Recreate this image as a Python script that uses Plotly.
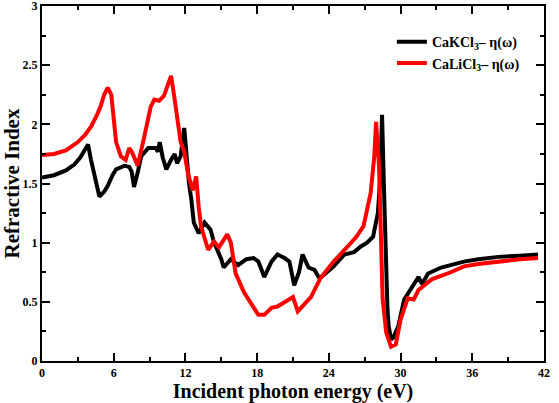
import plotly.graph_objects as go

black_x = [0, 1.0, 2.0, 2.7, 3.2, 3.5, 3.85, 4.1, 4.4, 4.8, 5.2, 5.5, 5.9, 6.2, 6.9, 7.3, 7.5, 7.7, 8.0, 8.3,
           8.9, 9.5, 9.7, 9.85, 10.1, 10.4, 10.8, 11.1, 11.3, 11.6, 11.9, 12.1, 12.3, 12.5, 12.7, 13.1, 13.6,
           14.1, 14.4, 15.0, 15.2, 15.8, 16.4, 17.1, 17.7, 18.1, 18.6, 19.2, 19.7, 20.3, 20.7, 21.1, 21.5,
           21.8, 22.3, 22.8, 23.2, 23.6, 24.4, 25.3, 26.1, 26.7, 27.2, 27.7, 28.1, 28.3, 28.45, 28.6, 28.75,
           28.9, 29.0, 29.2, 29.4, 29.8, 30.3, 31.0, 31.5, 31.8, 32.3, 33.4, 34.2, 35.3, 36.5, 38.2, 40.0, 41.5]
black_y = [1.55, 1.57, 1.61, 1.66, 1.72, 1.77, 1.83, 1.70, 1.55, 1.39, 1.43, 1.48, 1.57, 1.62, 1.65, 1.64, 1.60,
           1.47, 1.59, 1.73, 1.80, 1.80, 1.77, 1.85, 1.72, 1.62, 1.70, 1.75, 1.67, 1.73, 1.97, 1.70, 1.50, 1.36,
           1.17, 1.08, 1.17, 1.11, 1.00, 0.86, 0.79, 0.86, 0.81, 0.86, 0.87, 0.84, 0.71, 0.84, 0.90, 0.87, 0.84,
           0.64, 0.75, 0.90, 0.79, 0.77, 0.70, 0.73, 0.80, 0.90, 0.92, 0.97, 1.00, 1.05, 1.25, 1.55, 2.08, 1.50,
           0.90, 0.45, 0.30, 0.18, 0.20, 0.29, 0.52, 0.63, 0.71, 0.65, 0.74, 0.79, 0.81, 0.84, 0.86, 0.88, 0.89, 0.90]

red_x = [0, 1.0, 2.0, 3.0, 3.6, 4.1, 4.6, 4.9, 5.2, 5.5, 5.8, 6.0, 6.2, 6.6, 7.0, 7.3, 7.5, 7.8, 8.0, 8.5, 9.1,
         9.4, 9.8, 10.2, 10.6, 10.8, 11.1, 11.4, 11.6, 11.9, 12.2, 12.6, 12.9, 13.1, 13.3, 13.9, 14.4, 14.8,
         15.5, 15.8, 16.2, 16.9, 17.5, 18.1, 18.6, 19.2, 19.7, 20.3, 21.0, 21.4, 21.9, 22.5, 23.3, 24.4, 25.6,
         26.3, 26.9, 27.5, 27.8, 27.95, 28.2, 28.4, 28.5, 28.8, 29.2, 29.6, 30.0, 30.6, 31.1, 31.5, 32.6, 34.2,
         35.3, 36.5, 38.2, 40.0, 41.5]
red_y = [1.74, 1.75, 1.78, 1.85, 1.91, 1.98, 2.08, 2.15, 2.25, 2.31, 2.25, 2.05, 1.85, 1.73, 1.70, 1.80, 1.77,
         1.70, 1.65, 1.87, 2.15, 2.21, 2.20, 2.24, 2.36, 2.41, 2.21, 1.98, 1.85, 1.77, 1.59, 1.44, 1.56, 1.31,
         1.14, 0.94, 1.01, 0.96, 1.07, 1.00, 0.74, 0.58, 0.49, 0.39, 0.39, 0.45, 0.46, 0.50, 0.54, 0.42, 0.47,
         0.54, 0.70, 0.84, 0.97, 1.05, 1.14, 1.42, 1.73, 2.02, 1.64, 1.03, 0.52, 0.24, 0.12, 0.14, 0.35, 0.53,
         0.52, 0.60, 0.69, 0.75, 0.80, 0.82, 0.84, 0.86, 0.87]

names = ["CaKCl<sub>3</sub>– η(ω)", "CaLiCl<sub>3</sub>– η(ω)"]
x_ticks = [0, 6, 12, 18, 24, 30, 36, 42]
y_ticks = [0, 0.5, 1, 1.5, 2, 2.5, 3]
y_tick_text = ["0", "0.5", "1", "1.5", "2", "2.5", "3"]

FONT = "Liberation Serif, Times New Roman, Times, serif"

fig = go.Figure()
fig.add_trace(go.Scatter(x=black_x, y=black_y, mode="lines", name=names[0],
                         line=dict(color="#000000", width=4)))
fig.add_trace(go.Scatter(x=red_x, y=red_y, mode="lines", name=names[1],
                         line=dict(color="#ff0000", width=4)))

axis_common = dict(
    showline=True, linecolor="black", linewidth=2, mirror="ticks",
    ticks="inside", ticklen=8, tickwidth=2, tickcolor="black",
    showgrid=False, zeroline=False, automargin=False,
    ticklabeloverflow="allow",
    tickfont=dict(family=FONT, size=12, color="black", weight="bold"),
)

fig.update_layout(
    width=559, height=403,
    margin=dict(l=42, r=15, t=6, b=42),
    paper_bgcolor="white", plot_bgcolor="white",
    xaxis=dict(range=[0, 42], tickvals=x_ticks,
               minor=dict(ticks="inside", ticklen=4, tickwidth=2, tickcolor="black", dtick=3, tick0=0),
               title=dict(text="Incident photon energy (eV)", standoff=1,
                          font=dict(family=FONT, size=20, color="black", weight="bold")),
               **axis_common),
    yaxis=dict(range=[0, 3], tickvals=y_ticks, ticktext=y_tick_text,
               minor=dict(ticks="inside", ticklen=4, tickwidth=2, tickcolor="black", dtick=0.25, tick0=0),
               title=dict(text="Refractive Index", standoff=4,
                          font=dict(family=FONT, size=21, color="black", weight="bold")),
               **axis_common),
    legend=dict(x=0.697, y=0.943, xanchor="left", yanchor="top",
                bgcolor="rgba(0,0,0,0)", borderwidth=0,
                font=dict(family=FONT, size=14, color="black", weight="bold"),
                itemwidth=30, tracegroupgap=0),
    showlegend=True,
)

fig.write_html("out.html", config={"displayModeBar": False},
               post_script="document.body.style.margin='0px';document.body.style.overflow='hidden';")
